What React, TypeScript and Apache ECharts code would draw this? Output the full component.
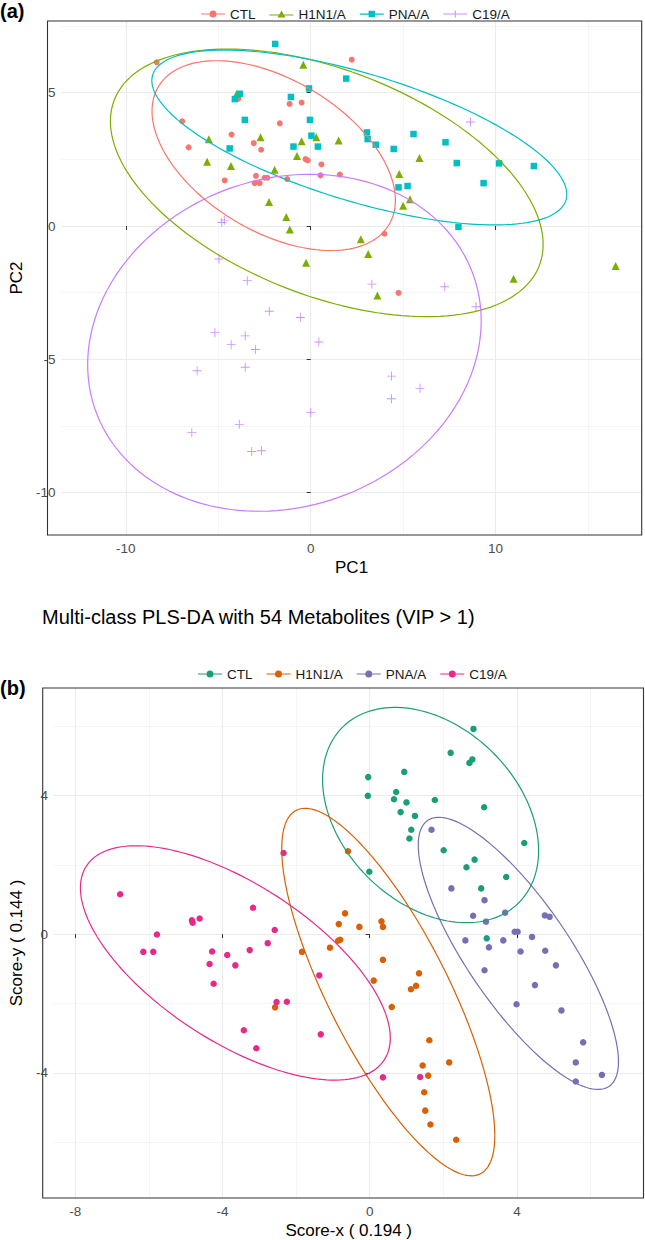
import React, { useEffect, useRef } from 'react';
import * as echarts from 'echarts';

const groups = ['CTL', 'H1N1/A', 'PNA/A', 'C19/A'];

// ---------- Panel (a): PCA scores [PC1, PC2] ----------
const pcaCtl: number[][] = [
  [-8.33, 6.14], [-6.95, 3.93], [-6.6, 2.95], [-3.91, 4.78], [-4.28, 3.43], [-4.65, 1.71],
  [-3.08, 3.11], [-2.68, 2.86], [-2.96, 1.88], [-3.03, 1.61], [-2.76, 1.61], [-2.5, 1.81],
  [-2.34, 1.81], [-1.67, 3.85], [-1.14, 4.58], [-0.49, 4.63], [-1.27, 1.76], [-0.28, 2.51],
  [-0.16, 2.46], [0.58, 2.31], [0.53, 1.9], [1.58, 1.93], [2.22, 6.24], [3.99, -0.29], [4.75, -2.51],
];
const pcaH1n1: number[][] = [
  [-4.01, 4.95], [-5.51, 3.25], [-5.6, 2.41], [-4.31, 2.25], [-2.71, 3.33], [-2.25, 0.9],
  [-1.95, 2.11], [-1.32, 0.34], [-1.13, -0.13], [-0.74, 2.63], [-0.49, 3.18], [-0.4, 6.05],
  [0.3, 3.33], [1.51, 3.21], [-0.25, -1.38], [5.88, 2.55], [4.79, 1.95], [5.37, 1.0],
  [5.0, 0.76], [2.71, -0.5], [3.11, -1.05], [16.49, -1.5], [10.97, -1.98], [3.61, -2.61],
];
const pcaPna: number[][] = [
  [-1.92, 6.83], [-4.1, 4.76], [-3.84, 4.96], [-3.56, 3.98], [-4.38, 2.91], [-1.07, 4.84],
  [-0.09, 5.16], [-0.04, 3.98], [0.04, 3.39], [-0.93, 2.98], [0.39, 2.98], [1.92, 5.53],
  [3.04, 3.51], [3.08, 3.26], [3.52, 3.05], [4.49, 2.89], [5.56, 3.45], [7.29, 3.14],
  [7.9, 2.36], [10.19, 2.35], [12.07, 2.25], [9.35, 1.61], [4.75, 1.45], [5.24, 1.5], [7.99, -0.03],
];
const pcaC19: number[][] = [
  [-4.81, 0.13], [-4.67, 0.22], [-4.96, -1.24], [-3.43, -2.05], [-2.24, -3.2], [-0.56, -3.43],
  [-5.18, -4.0], [-4.3, -4.45], [-3.54, -4.12], [-2.99, -4.63], [0.44, -4.35], [-6.14, -5.43],
  [-3.54, -5.3], [0.0, -7.0], [-6.43, -7.75], [-3.86, -7.44], [-3.19, -8.46], [-2.66, -8.43],
  [8.64, 3.9], [3.31, -2.18], [7.25, -2.28], [8.94, -3.03], [4.37, -5.63], [5.91, -6.09], [4.37, -6.48],
];

// ---------- Panel (b): PLS-DA scores [Score-x, Score-y] ----------
const plsCtl: number[][] = [
  [2.82, 5.92], [2.2, 5.23], [2.79, 5.04], [2.71, 4.94], [0.94, 4.68], [-0.04, 4.53],
  [-0.05, 3.99], [0.72, 4.1], [0.66, 3.89], [1.0, 3.8], [1.77, 3.87], [0.84, 3.52],
  [1.23, 3.41], [3.11, 3.66], [1.13, 3.01], [1.08, 2.76], [4.2, 2.63], [2.01, 2.42],
  [2.85, 2.15], [2.63, 1.93], [3.71, 1.65], [-0.01, 1.8], [3.03, 1.32], [3.18, -0.12],
];
const plsH1n1: number[][] = [
  [-0.59, 2.39], [-0.67, 0.6], [-0.84, 0.29], [-0.86, -0.19], [-0.8, -0.16], [-1.08, -0.39],
  [-1.84, -0.51], [0.32, 0.37], [0.36, 0.21], [-0.28, 0.21], [0.36, -0.74], [0.11, -1.34],
  [1.34, -1.13], [1.26, -1.49], [1.12, -1.59], [0.6, -2.1], [-2.57, -2.11], [1.62, -3.06],
  [2.16, -3.7], [1.44, -3.79], [1.59, -4.08], [1.48, -4.56], [1.51, -5.09], [1.65, -5.49], [2.35, -5.93],
];
const plsPna: number[][] = [
  [1.68, 3.01], [2.22, 1.32], [3.12, 0.98], [2.81, 0.53], [3.16, 0.36], [3.68, 0.62],
  [4.76, 0.54], [4.89, 0.5], [3.94, 0.07], [4.02, 0.07], [4.41, -0.08], [2.6, -0.18],
  [3.63, -0.18], [3.24, -0.38], [4.1, -0.5], [4.77, -0.48], [3.12, -1.04], [5.06, -0.9],
  [4.49, -1.47], [3.99, -2.02], [5.21, -2.2], [5.8, -3.12], [5.6, -3.7], [6.31, -4.06], [5.6, -4.25],
];
const plsC19: number[][] = [
  [-6.78, 1.15], [-6.15, -0.51], [-5.88, -0.51], [-5.78, -0.01], [-4.83, 0.4], [-4.81, 0.33],
  [-4.62, 0.45], [-4.28, -0.5], [-3.87, -0.6], [-3.26, -0.46], [-3.17, 0.76], [-2.77, -0.26],
  [-2.58, 0.12], [-2.34, 2.34], [-4.35, -0.86], [-3.65, -0.9], [-4.24, -1.43], [-2.53, -1.96],
  [-2.25, -1.95], [-1.37, -1.19], [-3.42, -2.77], [-3.08, -3.29], [-1.33, -2.89], [0.36, -4.13], [1.37, -4.12],
];

// ---------- Confidence ellipses: centre, half-extent in x and y, correlation ----------
const pcaEllCx = [-2.0, 0.87, 2.63, -1.42];
const pcaEllCy = [2.64, 1.62, 3.32, -4.38];
const pcaEllW = [6.58, 11.7, 11.22, 10.64];
const pcaEllH = [3.56, 5.02, 3.28, 6.32];
const pcaEllR = [-0.47, -0.46, -0.65, 0.13];

const plsEllCx = [1.655, 0.505, 4.04, -3.65];
const plsEllCy = [3.435, -1.67, -0.555, -0.83];
const plsEllW = [2.935, 2.895, 2.72, 4.21];
const plsEllH = [3.105, 5.3, 3.925, 3.38];
const plsEllR = [-0.33, -0.78, -0.795, -0.64];

// ---------- Axes ----------
const pcaXRange = [-13.48, 17.9];
const pcaYRange = [-11.59, 7.69];
const plsXRange = [-8.58, 7.44];
const plsYRange = [-7.61, 7.1];
const pcaXTicks = [-10, 0, 10];
const pcaYTicks = [-10, -5, 0, 5];
const plsXTicks = [-8, -4, 0, 4];
const plsYTicks = [-4, 0, 4];

// ---------- Styles ----------
const FONT = "'Liberation Sans', Arial, Helvetica, sans-serif";
const pcaColors = ['#F8766D', '#7CAE00', '#00BFC4', '#C77CFF'];
const plsColors = ['#1B9E77', '#D95F02', '#7570B3', '#E7298A'];
const PLUS = 'path://M4.5,0h1v4.5h4.5v1h-4.5v4.5h-1v-4.5h-4.5v-1h4.5z';

const iconCircle = 'path://M0,2.95h8.5v1.1h-8.5zM15.5,2.95h8.5v1.1h-8.5zM8.5,3.5a3.5,3.5 0 1,0 7,0a3.5,3.5 0 1,0 -7,0z';
const iconTriangle = 'path://M0,3.95h10v1.1h-10zM14,3.95h10v1.1h-10zM12,0L16,7L8,7z';
const iconSquare = 'path://M0,2.95h8.8v1.1h-8.8zM15.2,2.95h8.8v1.1h-8.8zM8.8,0.2h6.4v6.4h-6.4z';
const iconPlus = 'path://M0,2.95h24v1.1h-24zM11.45,0h1.1v2.95h-1.1zM11.45,4.05h1.1v2.95h-1.1z';

const ZW = '\u200b';

function ellipseSeries(gridIdx: number, cx: number[], cy: number[], w: number[], h: number[], r: number[], colors: string[]) {
  return {
    type: 'custom',
    xAxisIndex: gridIdx,
    yAxisIndex: gridIdx,
    silent: true,
    z: 5,
    clip: true,
    dimensions: ['cx', 'cy', 'w', 'h', 'r', 'g'],
    encode: { x: 0, y: 1 },
    data: cx.map((v, i) => [v, cy[i], w[i], h[i], r[i], i]),
    renderItem: (params: any, api: any) => {
      const ecx = api.value(0);
      const ecy = api.value(1);
      const ew = api.value(2);
      const eh = api.value(3);
      const er = api.value(4);
      const g = api.value(5);
      const s = Math.sqrt(1 - er * er);
      const pts: number[][] = [];
      const n = 160;
      for (let k = 0; k <= n; k++) {
        const t = (k / n) * Math.PI * 2;
        pts.push(api.coord([ecx + ew * Math.cos(t), ecy + eh * (er * Math.cos(t) - s * Math.sin(t))]));
      }
      return {
        type: 'polyline',
        shape: { points: pts },
        style: { stroke: colors[g], fill: 'none', lineWidth: 1.2 },
      };
    },
  };
}

function axis(gridIndex: number, range: number[], major: number, ticks: number[], name: string, nameGap: number) {
  return {
    type: 'value',
    gridIndex,
    min: range[0],
    max: range[1],
    minInterval: major,
    maxInterval: major,
    splitNumber: 4,
    axisLine: { show: false },
    axisTick: { show: true, length: 4, customValues: ticks, lineStyle: { color: '#333333', width: 1 } },
    axisLabel: {
      show: true,
      customValues: ticks,
      color: '#4D4D4D',
      fontSize: 13.5,
      fontFamily: FONT,
      margin: 6,
      formatter: (v: number) => (Math.abs(v / major - Math.round(v / major)) < 1e-6 ? String(Math.round(v)) : ''),
    },
    splitLine: { show: true, lineStyle: { color: '#EBEBEB', width: 1.1 } },
    minorTick: { show: false, splitNumber: 2 },
    minorSplitLine: { show: true, lineStyle: { color: '#F2F2F2', width: 0.8 } },
    name,
    nameLocation: 'middle',
    nameGap,
    nameTextStyle: { color: '#000000', fontSize: 17, fontFamily: FONT },
  };
}

function scatter(name: string, data: number[][], gridIdx: number, color: string, symbol: string, size: number, opacity = 1) {
  return {
    type: 'scatter',
    name,
    xAxisIndex: gridIdx,
    yAxisIndex: gridIdx,
    data,
    symbol,
    symbolSize: size,
    symbolKeepAspect: true,
    itemStyle: { color, opacity },
    z: 3,
  };
}

export default function App() {
  const ref = useRef<HTMLDivElement>(null);
  useEffect(() => {
    if (!ref.current) return;
    const chart = echarts.init(ref.current, undefined, { renderer: 'svg' });
    const plsNames = groups.map((g) => g + ZW);
    const legendText = { color: '#1A1A1A', fontSize: 13.5, fontFamily: FONT };
    const pcaIcons = [iconCircle, iconTriangle, iconSquare, iconPlus];
    const option: any = {
      animation: false,
      backgroundColor: '#FFFFFF',
      textStyle: { fontFamily: FONT },
      grid: [
        { left: 47.5, top: 21, width: 594.2, height: 514, show: false },
        { left: 42.7, top: 688, width: 600.8, height: 510, show: false },
      ],
      xAxis: [
        axis(0, pcaXRange, 10, pcaXTicks, 'PC1', 24),
        axis(1, plsXRange, 4, plsXTicks, 'Score-x ( 0.194 )', 24),
      ],
      yAxis: [
        axis(0, pcaYRange, 5, pcaYTicks, 'PC2', 26),
        axis(1, plsYRange, 4, plsYTicks, 'Score-y ( 0.144 )', 23),
      ],
      legend: [
        {
          top: 2,
          left: 196,
          itemWidth: 24,
          itemHeight: 7,
          itemGap: 14,
          selectedMode: false,
          textStyle: legendText,
          data: groups.map((g, i) => ({ name: g, icon: pcaIcons[i] })),
        },
        {
          top: 662,
          left: 193,
          itemWidth: 24,
          itemHeight: 7,
          itemGap: 14,
          selectedMode: false,
          textStyle: legendText,
          formatter: (n: string) => n.replace(ZW, ''),
          data: plsNames.map((g) => ({ name: g, icon: iconCircle })),
        },
      ],
      series: [
        scatter(groups[0], pcaCtl, 0, pcaColors[0], 'circle', 6),
        scatter(groups[1], pcaH1n1, 0, pcaColors[1], 'triangle', 8),
        scatter(groups[2], pcaPna, 0, pcaColors[2], 'rect', 6.5),
        scatter(groups[3], pcaC19, 0, pcaColors[3], PLUS, 9, 0.85),
        ellipseSeries(0, pcaEllCx, pcaEllCy, pcaEllW, pcaEllH, pcaEllR, pcaColors),
        scatter(plsNames[0], plsCtl, 1, plsColors[0], 'circle', 6.5),
        scatter(plsNames[1], plsH1n1, 1, plsColors[1], 'circle', 6.5),
        scatter(plsNames[2], plsPna, 1, plsColors[2], 'circle', 6.5),
        scatter(plsNames[3], plsC19, 1, plsColors[3], 'circle', 6.5),
        ellipseSeries(1, plsEllCx, plsEllCy, plsEllW, plsEllH, plsEllR, plsColors),
      ],
      graphic: [
        {
          type: 'text', x: 0, y: 11, z: 100,
          style: { text: '(a)', font: `bold 20px ${FONT}`, fill: '#000000', verticalAlign: 'middle' },
        },
        {
          type: 'text', x: 42, y: 617, z: 100,
          style: { text: 'Multi-class PLS-DA with 54 Metabolites (VIP > 1)', font: `20px ${FONT}`, fill: '#000000', verticalAlign: 'middle' },
        },
        {
          type: 'text', x: 0, y: 688, z: 100,
          style: { text: '(b)', font: `bold 20px ${FONT}`, fill: '#000000', verticalAlign: 'middle' },
        },
        {
          type: 'rect', z: 100, silent: true,
          shape: { x: 47.5, y: 21, width: 594.2, height: 514 },
          style: { fill: 'none', stroke: '#333333', lineWidth: 1.1 },
        },
        {
          type: 'rect', z: 100, silent: true,
          shape: { x: 42.7, y: 688, width: 600.8, height: 510 },
          style: { fill: 'none', stroke: '#333333', lineWidth: 1.1 },
        },
      ],
    };
    chart.setOption(option);
    return () => chart.dispose();
  }, []);
  return <div ref={ref} style={{ position: 'absolute', left: 0, top: 0, width: 645, height: 1240 }} />;
}
